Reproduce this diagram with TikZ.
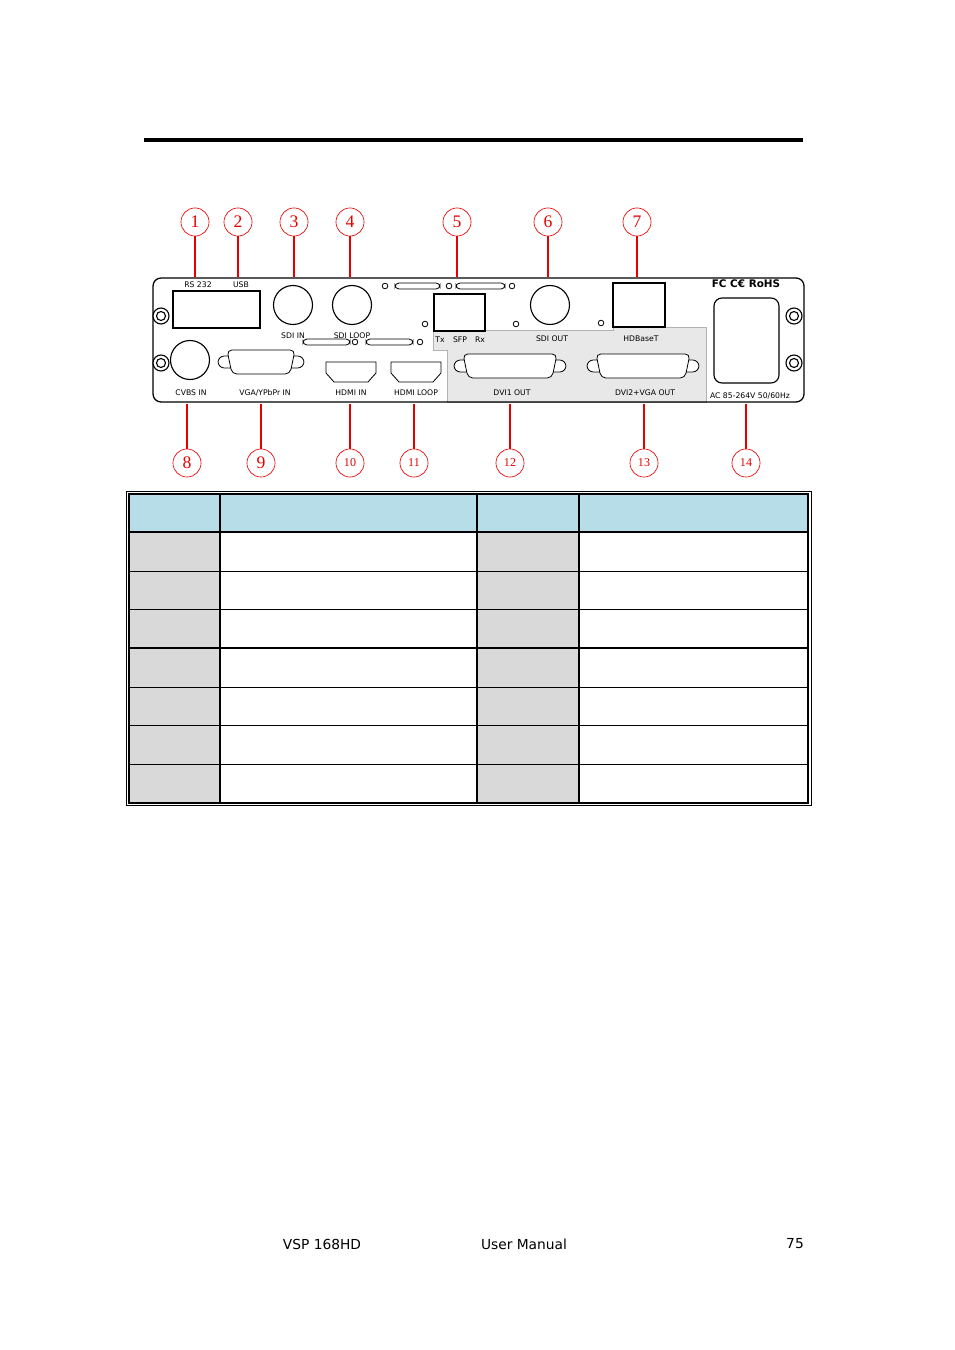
\documentclass[tikz,border=0pt]{standalone}
\usepackage{fontspec}
\setmainfont{DejaVu Sans}
\newfontfamily\calloutfont{Liberation Serif}
\definecolor{calloutred}{RGB}{230,0,0}
\definecolor{headblue}{RGB}{183,222,232}
\definecolor{cellgrey}{RGB}{217,217,217}
\definecolor{panelgrey}{RGB}{232,232,232}
\usetikzlibrary{positioning,calc}
\tikzset{
  callout/.style={draw=calloutred, circle, minimum size=17.5pt, inner sep=0pt, text=calloutred, font=\calloutfont\fontsize{11}{11}\selectfont},
  smallcallout/.style={callout, font=\calloutfont\fontsize{7.5}{7.5}\selectfont},
  lead/.style={draw=calloutred, line width=0.7pt},
  label/.style={font=\fontsize{4.8}{5}\selectfont, inner sep=0pt},
  hole/.style={draw, line width=0.5pt, fill=white},
}
% D-sub connector: centre x, y, half body width
\newcommand{\dsubconn}[3]{%
  \draw[hole, rounded corners=4] (#1-#3-9,#2-6) rectangle (#1+#3+9,#2+6);
  \draw[hole, rounded corners=3] (#1-#3,#2-12) -- (#1+#3,#2-12) -- (#1+#3-5,#2+12) -- (#1-#3+5,#2+12) -- cycle;}
\newcommand{\hdmiconn}[2]{%
  \draw[hole] (#1-25,#2-10) -- (#1+25,#2-10) -- (#1+25,#2+1) -- (#1+17,#2+10) -- (#1-17,#2+10) -- (#1-25,#2+1) -- cycle;}
\begin{document}
\begin{tikzpicture}[x=0.6237pt, y=-0.6237pt]
    \useasboundingbox (0,0) rectangle (954,1350);
    % top rule
    \draw[line width=2.4pt] (144,140) -- (803,140);

    % rear panel
    \draw[fill=panelgrey, draw=gray!60] (433,330) -- (613,330) -- (613,327) -- (706,327) -- (706,402) -- (447,402) -- (447,350) -- (433,350) -- cycle;
    \draw[line width=0.8pt, rounded corners=5] (153,278) rectangle (804,402);
    \foreach \ex in {161,794}
      \foreach \ey in {316,363} {
        \draw[hole, line width=0.7pt] (\ex,\ey) circle (8);
        \draw[line width=0.7pt] (\ex,\ey) circle (4.5);
      }
    \draw[line width=0.7pt] (173,291) rectangle (260,328);
    \node[label] (rs) at (198,285) {RS 232};
    \node[label] (usb) at (241,285) {USB};
    \foreach \cx/\cy in {293/305, 352/305, 550/305, 190/360}
      \draw[line width=0.7pt] (\cx,\cy) circle (19.5);
    \foreach \hx/\hy in {385/286, 449/286, 512/286, 425/324, 516/324, 601/323, 355/342, 420/342}
      \draw[hole] (\hx,\hy) circle (2.8);
    \foreach \sa/\sb/\sy in {395/440/286, 456/505/286, 303/350/342, 366/413/342}
      \draw[hole, rounded corners=2.5] (\sa,\sy-3) rectangle (\sb,\sy+3);
    \draw[line width=0.7pt, fill=white] (434,294) rectangle (485,331);
    \draw[line width=0.7pt, fill=white] (613,283) rectangle (665,327);
    \draw[line width=0.7pt, rounded corners=5] (714,298) rectangle (779,383);
    \dsubconn{261}{362}{34}
    \dsubconn{510}{366}{47}
    \dsubconn{643}{366}{47}
    \hdmiconn{351}{372}
    \hdmiconn{416}{372}
    \node[label] (sdiin) at (293,336) {SDI IN};
    \node[label] (sdiloop) at (352,336) {SDI LOOP};
    \node[label] (tx) at (440,340) {Tx};
    \node[label] (sfp) at (460,340) {SFP};
    \node[label] (rx) at (480,340) {Rx};
    \node[label] (sdiout) at (552,339) {SDI OUT};
    \node[label] (hdbt) at (641,339) {HDBaseT};
    \node[label, font=\fontsize{6.5}{6.5}\selectfont\bfseries] (cert) at (746,284) {FC  C€  RoHS};
    \node[label] (cvbs) at (191,393) {CVBS IN};
    \node[label] (vga) at (265,393) {VGA/YPbPr IN};
    \node[label] (hdmiin) at (351,393) {HDMI IN};
    \node[label] (hdmiloop) at (416,393) {HDMI LOOP};
    \node[label] (dvi1) at (512,393) {DVI1 OUT};
    \node[label] (dvi2) at (645,393) {DVI2+VGA OUT};
    \node[label] (ac) at (750,396) {AC 85-264V 50/60Hz};

    % callouts
    \foreach \n/\cx in {1/195, 2/238, 3/294, 4/350, 5/457, 6/548, 7/637} {
      \node[callout] (c\n) at (\cx,222) {\n};
      \coordinate (p\n) at (\cx,277);
      \draw[lead] (c\n) -- (p\n);
    }
    \foreach \n/\cx in {8/187, 9/261} {
      \node[callout] (c\n) at (\cx,463) {\n};
      \coordinate (p\n) at (\cx,404);
      \draw[lead] (c\n) -- (p\n);
    }
    \foreach \n/\cx in {10/350, 11/414, 12/510, 13/644, 14/746} {
      \node[smallcallout] (c\n) at (\cx,463) {\n};
      \coordinate (p\n) at (\cx,404);
      \draw[lead] (c\n) -- (p\n);
    }

    % table
    \draw[line width=0.6pt] (126,491) rectangle (811,805);
    \fill[headblue] (129,494) rectangle (808,532);
    \foreach \ry in {532,571,609,648,687,725,764} {
      \fill[cellgrey] (129,\ry) rectangle (220,\ry+39);
      \fill[cellgrey] (477,\ry) rectangle (579,\ry+39);
    }
    \foreach \ry in {571,609,687,725,764}
      \draw[line width=0.6pt] (129,\ry) -- (808,\ry);
    \foreach \ry in {532,648}
      \draw[line width=1.2pt] (129,\ry) -- (808,\ry);
    \foreach \rx in {220,477,579}
      \draw[line width=1pt] (\rx,494) -- (\rx,803);
    \draw[line width=1pt] (129,494) rectangle (808,803);

    % footer
    \node[font=\fontsize{8.6}{10}\selectfont] (model) at (322,1244) {VSP 168HD};
    \node[font=\fontsize{8.6}{10}\selectfont] (manual) at (524,1244) {User Manual};
    \node[font=\fontsize{8.6}{10}\selectfont] (page) at (795,1244) {75};
\end{tikzpicture}
\end{document}
